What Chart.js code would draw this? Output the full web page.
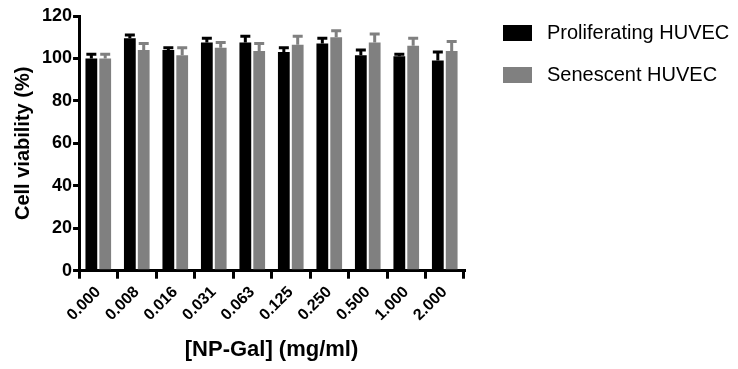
<!DOCTYPE html>
<html>
<head>
<meta charset="utf-8">
<script src="https://cdn.jsdelivr.net/npm/chart.js@4/dist/chart.umd.min.js"></script>
<style>
  html, body { margin: 0; padding: 0; background: #fff; }
  #wrap { width: 738px; height: 369px; position: relative; }
</style>
</head>
<body>
<div id="wrap"><canvas id="myChart"></canvas></div>
<script>
const concentrations = ["0.000", "0.008", "0.016", "0.031", "0.063", "0.125", "0.250", "0.500", "1.000", "2.000"];
const proliferating = [100, 109.5, 104, 107.5, 107.5, 103, 107, 101.5, 101, 99];
const proliferatingErr = [2, 1.5, 1, 2, 3, 2, 2.5, 2.5, 1, 4];
const senescent = [100, 104, 101.5, 105, 103.5, 106.5, 110, 107.5, 106, 103.5];
const senescentErr = [2, 3, 3.5, 2.5, 3.5, 4, 3, 4, 3.5, 4.5];
const yTicks = [0, 20, 40, 60, 80, 100, 120];

const fontFamily = "Arial, 'Liberation Sans', sans-serif";

// upper error bars, drawn through the y scale
const errorBars = {
  id: "errorBars",
  afterDatasetsDraw(chart) {
    const ctx = chart.ctx;
    const yScale = chart.scales.y;
    chart.data.datasets.forEach((ds, i) => {
      const meta = chart.getDatasetMeta(i);
      meta.data.forEach((bar, j) => {
        const top = yScale.getPixelForValue(ds.data[j] + ds.errors[j]);
        ctx.save();
        ctx.strokeStyle = ds.backgroundColor;
        ctx.lineWidth = 3;
        ctx.beginPath();
        ctx.moveTo(bar.x, bar.y);
        ctx.lineTo(bar.x, top);
        ctx.moveTo(bar.x - 5, top);
        ctx.lineTo(bar.x + 5, top);
        ctx.stroke();
        ctx.restore();
      });
    });
  },
};

// legend at the right, drawn from dataset labels and colours
const sideLegend = {
  id: "sideLegend",
  afterDraw(chart) {
    const ctx = chart.ctx;
    ctx.save();
    ctx.font = "20px " + fontFamily;
    ctx.textBaseline = "middle";
    chart.data.datasets.forEach((ds, i) => {
      const y = 25 + i * 42;
      ctx.fillStyle = ds.backgroundColor;
      ctx.fillRect(503, y, 29, 16);
      ctx.fillStyle = "#000";
      ctx.fillText(ds.label, 547, y + 8);
    });
    ctx.restore();
  },
};

const ctx = document.getElementById("myChart");
const chart = new Chart(ctx, {
  type: "bar",
  data: {
    labels: concentrations,
    datasets: [
      {
        label: "Proliferating HUVEC",
        data: proliferating,
        errors: proliferatingErr,
        backgroundColor: "#000000",
      },
      {
        label: "Senescent HUVEC",
        data: senescent,
        errors: senescentErr,
        backgroundColor: "#808080",
      },
    ],
  },
  options: {
    responsive: true,
    maintainAspectRatio: false,
    animation: false,
    datasets: {
      bar: { categoryPercentage: 0.72, barPercentage: 0.85 },
    },
    layout: { padding: { top: 16, right: 274, left: 7, bottom: 6 } },
    plugins: {
      legend: { display: false },
      tooltip: { enabled: false },
    },
    scales: {
      x: {
        grid: { drawOnChartArea: false, tickLength: 8, lineWidth: 3, color: "#000" },
        border: { color: "#000", width: 3 },
        ticks: {
          color: "#000",
          minRotation: 45,
          maxRotation: 45,
          padding: 4,
          font: { family: fontFamily, size: 16, weight: "bold" },
        },
        title: {
          display: true,
          text: "[NP-Gal] (mg/ml)",
          color: "#000",
          font: { family: fontFamily, size: 22, weight: "bold" },
          padding: { top: 8, bottom: 0 },
        },
      },
      y: {
        min: 0,
        max: 120,
        afterBuildTicks(axis) {
          axis.ticks = yTicks.map((v) => ({ value: v }));
        },
        grid: { drawOnChartArea: false, tickLength: 6, lineWidth: 3, color: "#000" },
        border: { color: "#000", width: 3 },
        ticks: {
          color: "#000",
          padding: 1,
          font: { family: fontFamily, size: 18, weight: "bold" },
        },
        title: {
          display: true,
          text: "Cell viability (%)",
          color: "#000",
          font: { family: fontFamily, size: 20, weight: "bold" },
          padding: { bottom: 6 },
        },
      },
    },
  },
  plugins: [errorBars, sideLegend],
});
</script>
</body>
</html>
